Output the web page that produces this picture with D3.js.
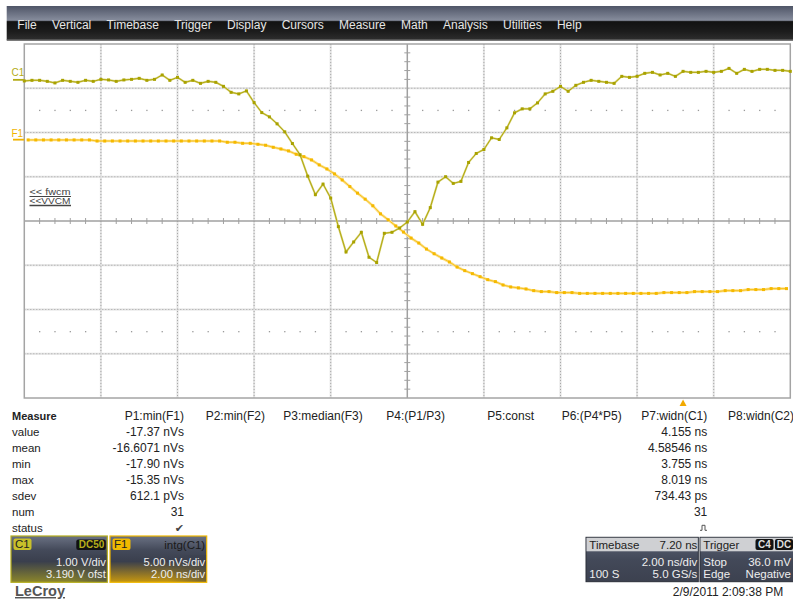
<!DOCTYPE html>
<html><head><meta charset="utf-8">
<script src="https://cdn.jsdelivr.net/npm/d3@7"></script>
<style>
html,body{margin:0;padding:0;background:#fff;}
svg{display:block;font-family:"Liberation Sans",Arial,sans-serif;}
</style></head>
<body>
<svg id="c" width="793" height="600"></svg>
<script>
// ---------------- DATA ----------------
const menuItems = ["File","Vertical","Timebase","Trigger","Display","Cursors","Measure","Math","Analysis","Utilities","Help"];
const sampleInterval = 0.2; // ns (5.0 GS/s)
// C1 trace, volts (1.00 V/div, 3.190 V offset)
const c1Values = [
 -0.025,-0.011,-0.011,-0.034,-0.070,-0.011,-0.034,-0.056,-0.011,-0.034,
  0.011,-0.002,-0.034,-0.002, 0.011, 0.034,-0.011, 0.011, 0.110,-0.011,
  0.056,-0.056,-0.011,-0.079,-0.034,-0.056,-0.147,-0.282,-0.318,-0.250,
 -0.514,-0.740,-0.837,-0.994,-1.175,-1.439,-1.693,-2.176,-2.595,-2.356,
 -2.672,-3.317,-3.890,-3.664,-3.445,-4.009,-4.128,-3.468,-3.445,-3.348,
 -3.213,-2.979,-3.265,-2.888,-2.311,-2.189,-2.340,-2.295,-1.867,-1.664,
 -1.574,-1.310,-1.348,-1.085,-0.746,-0.656,-0.656,-0.521,-0.318,-0.259,
 -0.147,-0.259,-0.124,-0.056,-0.011,-0.034,-0.056,-0.079, 0.079, 0.056,
  0.079, 0.147, 0.169, 0.110, 0.147, 0.079, 0.192, 0.169, 0.169, 0.192,
  0.169, 0.192, 0.259, 0.147, 0.237, 0.192, 0.237, 0.237, 0.214, 0.214,
  0.192];
// F1 = intg(C1), nVs (5.00 nVs/div)
const f1Values = [
 -0.03,-0.03,-0.03,-0.03,-0.03,-0.03,-0.03,-0.03,-0.03,-0.15,
 -0.15,-0.15,-0.15,-0.15,-0.15,-0.15,-0.15,-0.15,-0.15,-0.15,
 -0.15,-0.15,-0.15,-0.15,-0.15,-0.15,-0.29,-0.29,-0.41,-0.41,
 -0.52,-0.63,-0.86,-1.05,-1.27,-1.65,-1.92,-2.29,-2.85,-3.31,
 -3.87,-4.55,-5.30,-6.04,-6.72,-7.47,-8.38,-9.05,-9.75,-10.44,
 -11.12,-11.68,-12.36,-12.89,-13.37,-13.82,-14.39,-14.80,-15.14,-15.48,
 -15.82,-16.04,-16.42,-16.64,-16.75,-16.87,-17.06,-17.17,-17.17,-17.28,
 -17.28,-17.28,-17.37,-17.37,-17.37,-17.37,-17.37,-17.37,-17.37,-17.37,
 -17.37,-17.37,-17.37,-17.28,-17.28,-17.28,-17.28,-17.17,-17.17,-17.17,
 -17.17,-17.06,-17.06,-17.06,-16.94,-16.94,-16.94,-16.83,-16.83,-16.83];
const c1VoltsPerDiv = 1.00, c1Offset = 3.190;
const f1PerDiv = 5.00, f1Offset = 9.19;
const nsPerDiv = 2.00;
const measureHeaders = ["P1:min(F1)","P2:min(F2)","P3:median(F3)","P4:(P1/P3)","P5:const","P6:(P4*P5)","P7:widn(C1)","P8:widn(C2)"];
const rowLabels = ["value","mean","min","max","sdev","num","status"];
const p1Stats = ["-17.37 nVs","-16.6071 nVs","-17.90 nVs","-15.35 nVs","612.1 pVs","31"];
const p7Stats = ["4.155 ns","4.58546 ns","3.755 ns","8.019 ns","734.43 ps","31"];
const c1Box = ["C1","DC50","1.00 V/div","3.190 V ofst"];
const f1Box = ["F1","intg(C1)","5.00 nVs/div","2.00 ns/div"];
const timebaseBox = ["Timebase","7.20 ns","2.00 ns/div","100 S","5.0 GS/s"];
const triggerBox = ["Trigger","C4","DC","Stop","36.0 mV","Edge","Negative"];
const triggerDelay = 7.20; // ns right of centre
const dateText = "2/9/2011 2:09:38 PM";

// ---------------- LAYOUT ----------------
const svg = d3.select("#c");
const L = 24.3, R = 790.3, T = 44, B = 398;
const x = d3.scaleLinear().domain([0, 10*nsPerDiv]).range([L, R]);
const yC1 = d3.scaleLinear().domain([-c1Offset-4*c1VoltsPerDiv, -c1Offset+4*c1VoltsPerDiv]).range([B, T]);
const yF1 = d3.scaleLinear().domain([-f1Offset-4*f1PerDiv, -f1Offset+4*f1PerDiv]).range([B, T]);
const xDiv = d3.scaleLinear().domain([0,10]).range([L,R]);
const yDiv = d3.scaleLinear().domain([0,8]).range([T,B]);
const defs = svg.append("defs");

// ---- menu bar ----
const mg = defs.append("linearGradient").attr("id","menuG").attr("x1",0).attr("y1",0).attr("x2",0).attr("y2",1);
[[0,"#4f5567"],[0.42,"#868c9c"],[0.46,"#121212"],[0.75,"#1c1c1c"],[1,"#2e2e2e"]].forEach(s=>mg.append("stop").attr("offset",s[0]).attr("stop-color",s[1]));
svg.append("rect").attr("x",6.7).attr("y",6).attr("width",793-6.7).attr("height",34).attr("fill","url(#menuG)");
svg.append("rect").attr("x",6.7).attr("y",39.5).attr("width",793-6.7).attr("height",1.5).attr("fill","#7a7a7a");
let mx = 17.3;
menuItems.forEach(m=>{
  const t = svg.append("text").attr("x",mx).attr("y",28.5).attr("fill","#e6e6e6").attr("font-size",12).text(m);
  mx += t.node().getComputedTextLength() + 15.3;
});

// ---- grid ----
const grid = svg.append("g");
function gridLine(x1,y1,x2,y2){
  grid.append("line").attr("x1",x1).attr("y1",y1).attr("x2",x2).attr("y2",y2).attr("stroke","#e2e2e2").attr("stroke-width",2);
  grid.append("line").attr("x1",x1).attr("y1",y1).attr("x2",x2).attr("y2",y2).attr("stroke","#a9a9a9").attr("stroke-width",1).attr("stroke-dasharray","1,2");
}
d3.range(1,10).filter(d=>d!==5).forEach(d=>gridLine(xDiv(d),T,xDiv(d),B));
d3.range(1,8).filter(d=>d!==4).forEach(d=>gridLine(L,yDiv(d),R,yDiv(d)));
// sub-division dot rows
[1.5,6.5].forEach(r=>{
  d3.range(0,50).filter(k=>k%5!==0).forEach(k=>{
    grid.append("rect").attr("x",xDiv(k/5)-0.6).attr("y",yDiv(r)-0.6).attr("width",1.3).attr("height",1.3).attr("fill","#9a9a9a");
  });
});
// centre axes
grid.append("line").attr("x1",L).attr("x2",R).attr("y1",yDiv(4)).attr("y2",yDiv(4)).attr("stroke","#a0a0a0").attr("stroke-width",1.5);
grid.append("line").attr("y1",T).attr("y2",B).attr("x1",xDiv(5)).attr("x2",xDiv(5)).attr("stroke","#a0a0a0").attr("stroke-width",1.5);
d3.range(1,50).filter(k=>k%5!==0).forEach(k=>{
  grid.append("line").attr("x1",xDiv(k/5)).attr("x2",xDiv(k/5)).attr("y1",yDiv(4)-3).attr("y2",yDiv(4)+3).attr("stroke","#a0a0a0");
});
d3.range(1,40).filter(k=>k%5!==0).forEach(k=>{
  grid.append("line").attr("y1",yDiv(k/5)).attr("y2",yDiv(k/5)).attr("x1",xDiv(5)-3).attr("x2",xDiv(5)+3).attr("stroke","#a0a0a0");
});
grid.append("rect").attr("x",L).attr("y",T).attr("width",R-L).attr("height",B-T).attr("fill","none").attr("stroke","#a4a4a4").attr("stroke-width",1.5);

// ---- fwcm label ----
const fw = svg.append("g").attr("fill","#444").attr("font-size",9.5);
fw.append("text").attr("x",29.5).attr("y",195).attr("textLength",41).attr("lengthAdjust","spacingAndGlyphs").text("<< fwcm");
fw.append("text").attr("x",29.5).attr("y",204).attr("font-size",8.5).attr("textLength",41).attr("lengthAdjust","spacingAndGlyphs").text("<<VVCM");
fw.append("line").attr("x1",29.5).attr("x2",71).attr("y1",196.5).attr("y2",196.5).attr("stroke","#444");
fw.append("line").attr("x1",29.5).attr("x2",71).attr("y1",205.5).attr("y2",205.5).attr("stroke","#444").attr("stroke-width",1.3);

// ---- traces ----
const plot = svg.append("g");
const c1Data = c1Values.map((v,i)=>({t:i*sampleInterval, v}));
const f1Data = f1Values.map((v,i)=>({t:(i+0.5)*sampleInterval, v}));
const lineC1 = d3.line().x(d=>x(d.t)).y(d=>yC1(d.v));
const lineF1 = d3.line().x(d=>x(d.t)).y(d=>yF1(d.v));
plot.append("path").datum(f1Data).attr("d",lineF1).attr("fill","none").attr("stroke","#fde08a").attr("stroke-width",2.6);
plot.append("path").datum(f1Data).attr("d",lineF1).attr("fill","none").attr("stroke","#f7c21e").attr("stroke-width",1);
plot.selectAll(".pf").data(f1Data).join("rect").attr("x",d=>x(d.t)-1.5).attr("y",d=>yF1(d.v)-1.5).attr("width",3).attr("height",3).attr("fill","#f5b900");
plot.append("path").datum(c1Data).attr("d",lineC1).attr("fill","none").attr("stroke","#d8d27a").attr("stroke-width",2);
plot.append("path").datum(c1Data).attr("d",lineC1).attr("fill","none").attr("stroke","#b2aa10").attr("stroke-width",1);
plot.selectAll(".pc").data(c1Data).join("rect").attr("x",d=>x(d.t)-1.5).attr("y",d=>yC1(d.v)-1.5).attr("width",3).attr("height",3).attr("fill","#a9a200");

// channel markers
svg.append("text").attr("x",11.5).attr("y",76).attr("fill","#b3ab16").attr("font-size",10).text("C1");
svg.append("line").attr("x1",13).attr("x2",L).attr("y1",yC1(0)).attr("y2",yC1(0)).attr("stroke","#b3ab16").attr("stroke-width",1.8);
svg.append("text").attr("x",11.5).attr("y",137).attr("fill","#f0b400").attr("font-size",10).text("F1");
svg.append("line").attr("x1",13).attr("x2",L).attr("y1",yF1(0)).attr("y2",yF1(0)).attr("stroke","#f0b400").attr("stroke-width",1.8);

// trigger marker
const tx = xDiv(5) + triggerDelay/nsPerDiv*(xDiv(1)-xDiv(0));
svg.append("path").attr("d",`M${tx},399.5 L${tx-3.5},406 L${tx+3.5},406 Z`).attr("fill","#f2a900");

// ---- measure table ----
const tb = svg.append("g").attr("font-size",12).attr("fill","#222");
tb.append("text").attr("x",12).attr("y",420).attr("font-weight","bold").attr("font-size",11).text("Measure");
const colRight = [184, 265, 362.7, 445, 534, 621.7, 707.3, 794];
measureHeaders.forEach((h,i)=>tb.append("text").attr("x",colRight[i]).attr("y",420).attr("text-anchor","end").text(h));
const rowY = d3.scaleLinear().domain([0,6]).range([436.3,532.3]);
rowLabels.forEach((r,i)=>tb.append("text").attr("x",12).attr("y",rowY(i)).attr("font-size",11.5).text(r));
p1Stats.forEach((s,i)=>tb.append("text").attr("x",colRight[0]).attr("y",rowY(i)).attr("text-anchor","end").text(s));
p7Stats.forEach((s,i)=>tb.append("text").attr("x",colRight[6]).attr("y",rowY(i)).attr("text-anchor","end").text(s));
tb.append("text").attr("x",184).attr("y",rowY(6)).attr("text-anchor","end").attr("font-family","DejaVu Sans").attr("font-size",11).attr("fill","#444").text("✔");
// pulse icon
const py = rowY(6)-2;
tb.append("path").attr("d",`M700,${py} h2 v-5 h3 v5 h2`).attr("fill","none").attr("stroke","#555").attr("stroke-width",1);

// ---- channel boxes ----
function chanBox(x0, w, border, glow, labelFill, items, badge){
  const id = "g"+x0;
  const g = defs.append("linearGradient").attr("id",id).attr("x1",0).attr("y1",0).attr("x2",0).attr("y2",1);
  [[0,"#6a7183"],[0.3,"#444a5a"],[0.55,"#3a3f4d"],[1,glow]].forEach(s=>g.append("stop").attr("offset",s[0]).attr("stop-color",s[1]));
  const gh = defs.append("linearGradient").attr("id",id+"h").attr("x1",0).attr("y1",0).attr("x2",1).attr("y2",0);
  [[0,"#3a3f4d",0],[0.6,"#3a3f4d",0],[1,"#3a3f4d",0.55]].forEach(s=>gh.append("stop").attr("offset",s[0]).attr("stop-color",s[1]).attr("stop-opacity",s[2]));
  svg.append("rect").attr("x",x0).attr("y",536).attr("width",w).attr("height",46.3).attr("fill",`url(#${id})`).attr("stroke",border).attr("stroke-width",1.2);
  svg.append("rect").attr("x",x0+0.6).attr("y",555).attr("width",w-1.2).attr("height",26.7).attr("fill",`url(#${id}h)`);
  svg.append("rect").attr("x",x0+2.5).attr("y",538.5).attr("width",18).attr("height",11.5).attr("rx",2).attr("fill",labelFill);
  svg.append("text").attr("x",x0+4).attr("y",548.3).attr("font-size",11.5).attr("fill","#222").text(items[0]);
  if(badge){
    svg.append("rect").attr("x",x0+w-31).attr("y",539.5).attr("width",29.5).attr("height",10.5).attr("rx",2).attr("fill","#111");
    svg.append("text").attr("x",x0+w-3).attr("y",548.3).attr("text-anchor","end").attr("font-size",10).attr("font-weight","bold").attr("fill",border).text(items[1]);
  } else {
    svg.append("text").attr("x",x0+w-1.5).attr("y",549).attr("text-anchor","end").attr("font-size",11.5).attr("fill","#1a1a1a").text(items[1]);
  }
  svg.append("text").attr("x",x0+w-1.5).attr("y",565.7).attr("text-anchor","end").attr("font-size",11.2).attr("fill","#eeeeee").text(items[2]);
  svg.append("text").attr("x",x0+w-1.5).attr("y",577.6).attr("text-anchor","end").attr("font-size",11.2).attr("fill","#eeeeee").text(items[3]);
}
chanBox(11, 96.3, "#b5ad1c", "#8c862a", "#c9c02a", c1Box, true);
chanBox(110, 96.7, "#f0b800", "#c8980e", "#f2ba00", f1Box, false);

// ---- timebase / trigger boxes ----
const sg = defs.append("linearGradient").attr("id","slate").attr("x1",0).attr("y1",0).attr("x2",0).attr("y2",1);
[[0,"#5a6173"],[0.5,"#434959"],[1,"#3c414f"]].forEach(s=>sg.append("stop").attr("offset",s[0]).attr("stop-color",s[1]));
function infoBox(x0,w){
  svg.append("rect").attr("x",x0).attr("y",537.3).attr("width",w).attr("height",44.4).attr("fill","url(#slate)").attr("stroke","#2a2e38");
  svg.append("rect").attr("x",x0+0.5).attr("y",537.8).attr("width",w-1).attr("height",13.5).attr("fill","#cfd0d3");
}
infoBox(586, 112.3);
infoBox(700, 95);
svg.append("rect").attr("x",755.5).attr("y",539).attr("width",18).attr("height",11).attr("rx",2).attr("fill","#111");
svg.append("rect").attr("x",775).attr("y",539).attr("width",18).attr("height",11).attr("rx",2).attr("fill","#111");
const ib = svg.append("g").attr("font-size",11.5);
ib.append("text").attr("x",589.3).attr("y",548.5).attr("fill","#222").text(timebaseBox[0]);
ib.append("text").attr("x",697.3).attr("y",548.5).attr("fill","#222").attr("text-anchor","end").text(timebaseBox[1]);
ib.append("text").attr("x",697.3).attr("y",565.5).attr("fill","#eee").attr("text-anchor","end").text(timebaseBox[2]);
ib.append("text").attr("x",589.3).attr("y",578).attr("fill","#eee").text(timebaseBox[3]);
ib.append("text").attr("x",697.3).attr("y",578).attr("fill","#eee").attr("text-anchor","end").text(timebaseBox[4]);
ib.append("text").attr("x",703.3).attr("y",548.5).attr("fill","#222").text(triggerBox[0]);
ib.append("text").attr("x",764.5).attr("y",548).attr("fill","#ddd").attr("font-size",10).attr("font-weight","bold").attr("text-anchor","middle").text(triggerBox[1]);
ib.append("text").attr("x",784).attr("y",548).attr("fill","#ddd").attr("font-size",10).attr("font-weight","bold").attr("text-anchor","middle").text(triggerBox[2]);
ib.append("text").attr("x",703.3).attr("y",565.5).attr("fill","#eee").text(triggerBox[3]);
ib.append("text").attr("x",791).attr("y",565.5).attr("fill","#eee").attr("text-anchor","end").text(triggerBox[4]);
ib.append("text").attr("x",703.3).attr("y",578).attr("fill","#eee").text(triggerBox[5]);
ib.append("text").attr("x",791).attr("y",578).attr("fill","#eee").attr("text-anchor","end").text(triggerBox[6]);

// ---- footer ----
svg.append("text").attr("x",783.3).attr("y",596).attr("text-anchor","end").attr("font-size",12).attr("fill","#222").text(dateText);
svg.append("text").attr("x",15).attr("y",596).attr("font-size",14.5).attr("font-weight","bold").attr("fill","#555").attr("text-decoration","underline").text("LeCroy");
</script>
</body></html>
